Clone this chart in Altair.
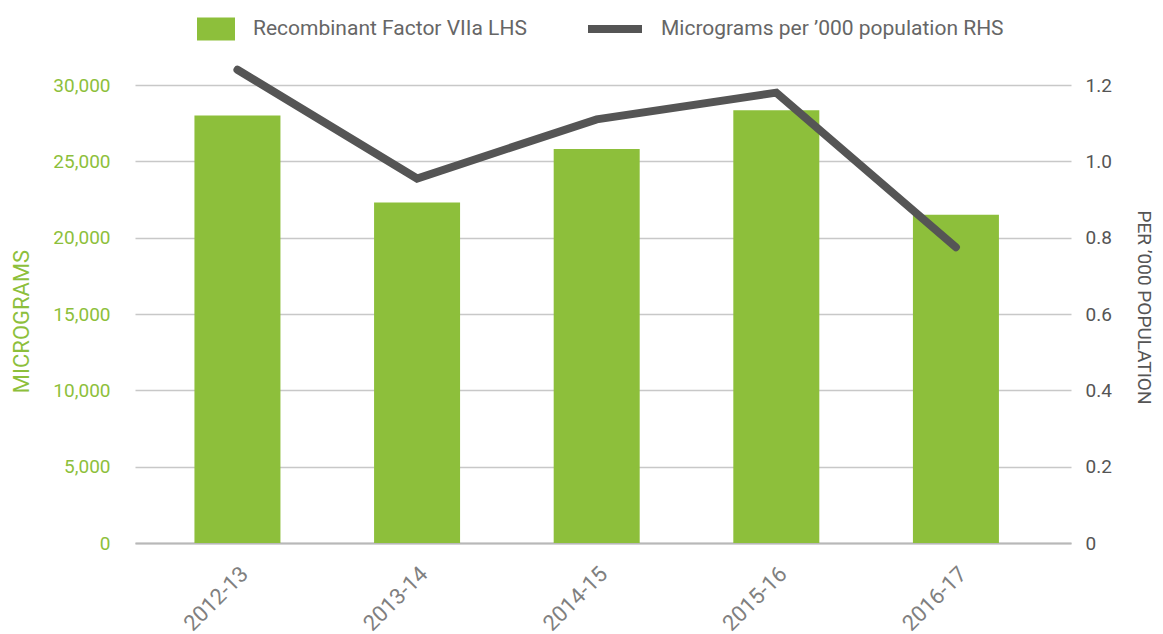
import altair as alt
import pandas as pd

years = ["2012-13", "2013-14", "2014-15", "2015-16", "2016-17"]
micrograms = [28000, 22300, 25800, 28350, 21500]
per_000 = [1.24, 0.955, 1.11, 1.18, 0.775]
bar_series = "Recombinant Factor VIIa LHS"
line_series = "Micrograms per ’000 population RHS"
left_ticks = [0, 5000, 10000, 15000, 20000, 25000, 30000]
right_ticks = [0, 0.2, 0.4, 0.6, 0.8, 1.0, 1.2]

FONT = "Roboto"
GREEN = "#8dbf3b"
DARK = "#555555"

df = pd.DataFrame({
    "year": years,
    "micrograms": micrograms,
    "per": per_000,
    "bar_series": bar_series,
    "line_series": line_series,
})

x_enc = alt.X(
    "year:N", sort=years, title=None,
    scale=alt.Scale(paddingInner=0.521, paddingOuter=0.366, align=0.452),
    axis=alt.Axis(labelAngle=-45, labelFontSize=22, labelColor="#808080", labelFont=FONT,
                  labelPadding=20, ticks=False, domain=True, domainColor="#b8b8b8",
                  domainWidth=2, grid=False),
)

bars = alt.Chart(df).mark_bar(size=86).encode(
    x=x_enc,
    y=alt.Y("micrograms:Q", scale=alt.Scale(domain=[0, 30000], nice=False),
            axis=alt.Axis(title="MICROGRAMS", values=left_ticks, format=",.0f",
                          labelColor=GREEN, labelFontSize=19, labelFont=FONT, labelPadding=25,
                          ticks=False, domain=False, grid=True, gridColor="#c8c8c8", gridWidth=1.5,
                          titleColor=GREEN, titleFontSize=22, titleFont=FONT, titleFontWeight="normal",
                          titleX=-114, titleY=236, titleAngle=-90, titleAlign="center",
                          titleBaseline="middle")),
    color=alt.Color("bar_series:N", scale=alt.Scale(domain=[bar_series], range=[GREEN]),
                    legend=alt.Legend(orient="none", legendX=62, legendY=-75, title=None,
                                      symbolType="M-1,-0.605H1V0.605H-1Z", symbolSize=1444,
                                      symbolStrokeWidth=0, labelOffset=18, labelFontSize=21,
                                      labelFont=FONT, labelColor="#666666", padding=0,
                                      labelLimit=500)),
)

line = alt.Chart(df).mark_line(strokeWidth=8, strokeCap="round", strokeJoin="miter").encode(
    x=x_enc,
    y=alt.Y("per:Q", scale=alt.Scale(domain=[0, 1.2], nice=False),
            axis=alt.Axis(orient="right", title="PER ’000 POPULATION", values=right_ticks,
                          labelExpr="datum.value == 0 ? '0' : format(datum.value, '.1f')",
                          labelColor=DARK, labelFontSize=19, labelFont=FONT, labelPadding=14,
                          ticks=False, domain=False, grid=False,
                          titleColor=DARK, titleFontSize=19, titleFont=FONT, titleFontWeight="normal",
                          titleX=72, titleY=222, titleAngle=90, titleAlign="center",
                          titleBaseline="middle")),
    stroke=alt.Stroke("line_series:N", scale=alt.Scale(domain=[line_series], range=[DARK]),
                      legend=alt.Legend(orient="none", legendX=449, legendY=-87, title=None,
                                        symbolType="stroke", symbolSize=2916, symbolStrokeWidth=8,
                                        labelOffset=15, labelFontSize=21, labelFont=FONT,
                                        labelColor="#666666", padding=0, labelLimit=500)),
)

chart = alt.layer(bars, line).resolve_scale(
    y="independent", color="independent", stroke="independent"
).properties(
    width=936, height=458,
    autosize=alt.AutoSizeParams(type="none"),
    padding={"left": 127, "top": 77, "right": 84, "bottom": 110},
).configure_view(stroke=None)

chart.save("out.html", embed_options={"renderer": "svg", "actions": False})
